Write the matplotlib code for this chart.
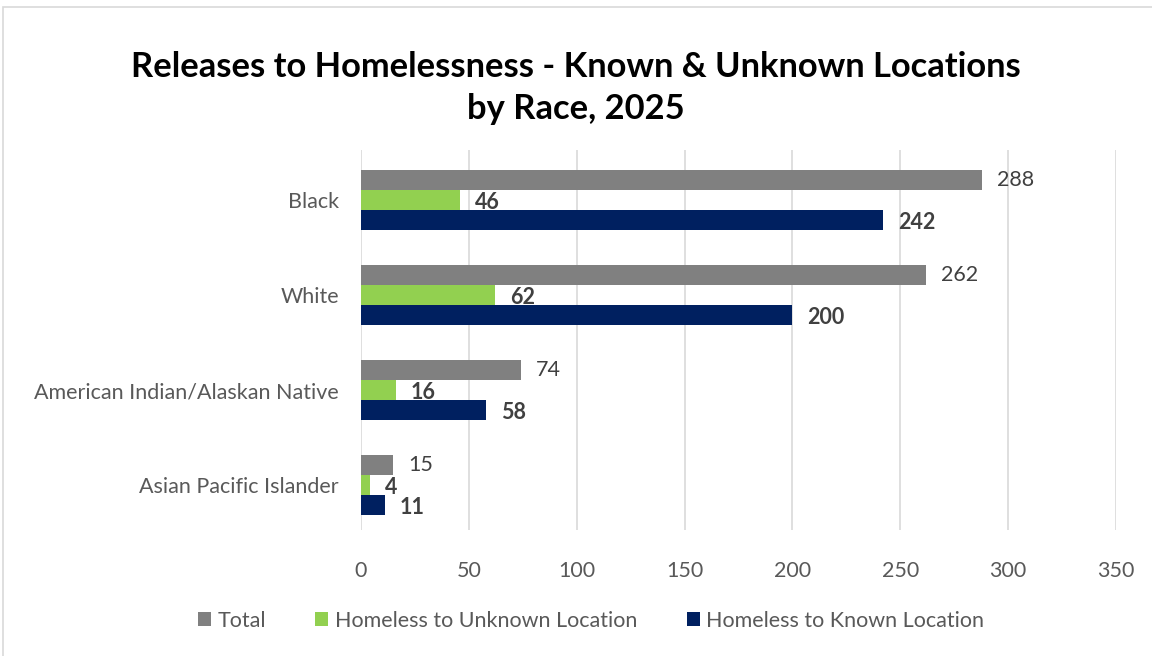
import matplotlib.pyplot as plt
from matplotlib.patches import Rectangle
import numpy as np

plt.rcParams['font.family'] = ['Lato', 'DejaVu Sans']

races = ['Black', 'White', 'American Indian/Alaskan Native', 'Asian Pacific Islander']
total = [288, 262, 74, 15]
unknown_loc = [46, 62, 16, 4]
known_loc = [242, 200, 58, 11]

gray = '#808080'
green = '#92d050'
navy = '#002060'
text_col = '#404040'

fig = plt.figure(figsize=(11.52, 6.56), dpi=100)
ax = fig.add_axes([0.3134, 0.192, 0.6554, 0.5793])

y = np.arange(len(races)) + 0.03
h = 0.21

ax.barh(y - h, total, height=h, color=gray, label='Total')
ax.barh(y, unknown_loc, height=h, color=green, label='Homeless to Unknown Location')
ax.barh(y + h, known_loc, height=h, color=navy, label='Homeless to Known Location')

for i in range(len(races)):
    ax.text(total[i] + 7, y[i] - h, str(total[i]), va='center', ha='left',
            fontsize=15.5, color=text_col)
    ax.text(unknown_loc[i] + 7, y[i] + 0.02, str(unknown_loc[i]), va='center', ha='left',
            fontsize=15.5, color=text_col, fontweight='bold')
    ax.text(known_loc[i] + 7, y[i] + h + 0.02, str(known_loc[i]), va='center', ha='left',
            fontsize=15.5, color=text_col, fontweight='bold')

ax.set_xlim(0, 350)
ax.set_ylim(3.5, -0.5)
ax.set_xticks(range(0, 351, 50))
ax.set_yticks(y)
ax.set_yticklabels(races)
ax.tick_params(axis='both', length=0, labelsize=15.5, labelcolor='#595959')
ax.tick_params(axis='x', pad=22)
ax.tick_params(axis='y', pad=16)
ax.grid(True, axis='x', color='#d9d9d9', linewidth=1.2)
ax.set_axisbelow(True)
for s in ax.spines.values():
    s.set_visible(False)

fig.text(0.5, 0.866, 'Releases to Homelessness - Known & Unknown Locations\nby Race, 2025',
         ha='center', va='center', fontsize=24.8, fontweight='bold', color='black',
         linespacing=1.4)

fig.legend(loc='center', bbox_to_anchor=(0.513, 0.054), ncol=3, frameon=False,
           fontsize=15.5, labelcolor='#595959', handlelength=0.6, handleheight=0.6,
           handletextpad=0.3, columnspacing=2.3)

# outer chart border
fig.patches.append(Rectangle((0.003, -0.05), 1.2, 1.04, transform=fig.transFigure,
                             fill=False, edgecolor='#d9d9d9', linewidth=1.2))

fig.savefig('out.png', dpi=100, facecolor='white')
